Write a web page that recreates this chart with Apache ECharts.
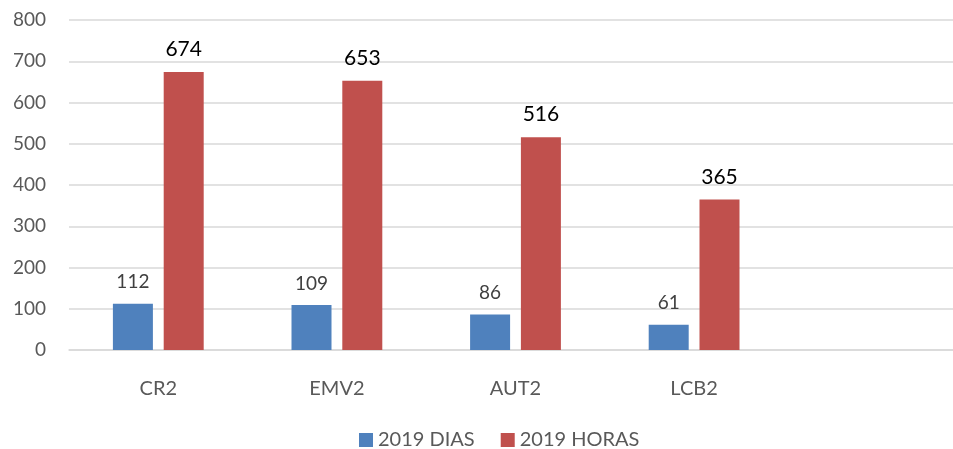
<!DOCTYPE html>
<html><head><meta charset="utf-8">
<script src="https://cdn.jsdelivr.net/npm/echarts@6/dist/echarts.min.js"></script>
<style>html,body{margin:0;padding:0;background:#fff}#c{width:953px;height:449px}</style>
</head><body><div id="c"></div>
<script>
const categories = ['CR2', 'EMV2', 'AUT2', 'LCB2', ''];
const dias = [112, 109, 86, 61, null];
const horas = [674, 653, 516, 365, null];
const yTicks = [0, 100, 200, 300, 400, 500, 600, 700, 800];
const seriesNames = ['2019 DIAS', '2019 HORAS'];

const font = 'Lato, "Open Sans", sans-serif';
const chart = echarts.init(document.getElementById('c'), null, {renderer: 'canvas'});
chart.setOption({
  animation: false,
  textStyle: {fontFamily: font},
  grid: {left: 69, width: 893, top: 20, bottom: 99, containLabel: false, outerBoundsMode: 'none'},
  legend: {
    top: 425, left: 354, itemWidth: 14, itemHeight: 14, itemGap: 26,
    icon: 'rect',
    textStyle: {fontSize: 20, color: '#595959', fontFamily: font},
    data: seriesNames
  },
  xAxis: {
    type: 'category', data: categories,
    axisLine: {lineStyle: {color: '#d9d9d9', width: 1.5}},
    axisTick: {show: false},
    axisLabel: {color: '#595959', fontSize: 20, margin: 29, fontFamily: font}
  },
  yAxis: {
    type: 'value', min: yTicks[0], max: yTicks[yTicks.length - 1], interval: 100,
    axisLine: {show: false}, axisTick: {show: false},
    splitLine: {lineStyle: {color: '#d9d9d9', width: 1.5}},
    axisLabel: {color: '#595959', fontSize: 19, margin: 23, fontFamily: font}
  },
  series: [
    {name: seriesNames[0], type: 'bar', data: dias, barWidth: 40, barGap: '27%',
     itemStyle: {color: '#4F81BD'},
     label: {show: true, position: 'top', distance: 12, fontSize: 19, color: '#404040', fontFamily: font}},
    {name: seriesNames[1], type: 'bar', data: horas, barWidth: 40,
     itemStyle: {color: '#C0504D'},
     label: {show: true, position: 'top', distance: 12, fontSize: 21, color: '#000', fontFamily: font}}
  ]
});
</script></body></html>
